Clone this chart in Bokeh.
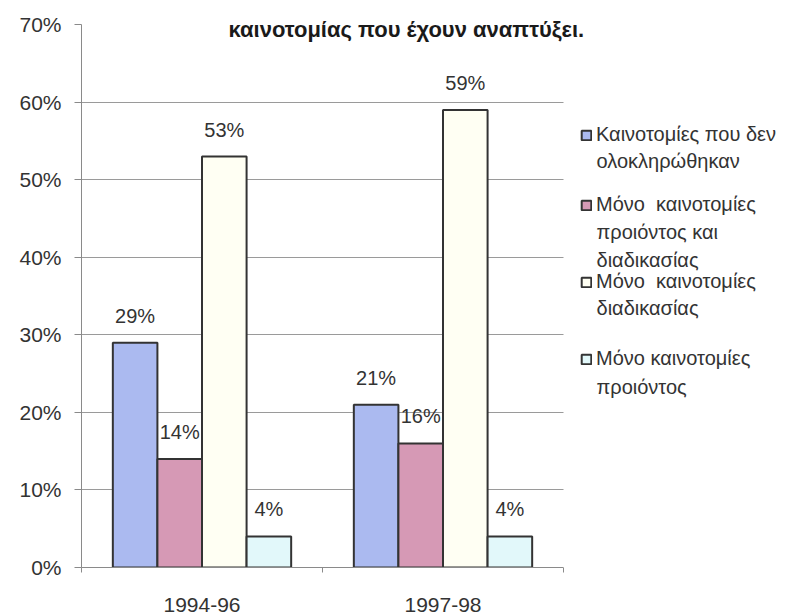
from bokeh.plotting import figure
from bokeh.models import (ColumnDataSource, Range1d, Legend, LegendItem, Label,
                          PrintfTickFormatter, FixedTicker, BoxAnnotation)
from bokeh.transform import dodge
from bokeh.core.properties import value
from bokeh.embed import file_html
from bokeh.resources import INLINE

periods = ["1994-96", "1997-98"]
not_completed = [29, 21]
prod_and_proc = [14, 16]
proc_only = [53, 59]
prod_only = [4, 4]
y_ticks = [0, 10, 20, 30, 40, 50, 60, 70]

legend_first = ["Καινοτομίες που δεν", "Μόνο  καινοτομίες", "Μόνο  καινοτομίες",
                "Μόνο καινοτομίες"]
legend_rest = [["ολοκληρώθηκαν"], ["προιόντος και", "διαδικασίας"], ["διαδικασίας"],
               ["προιόντος"]]
title_text = "καινοτομίας που έχουν αναπτύξει."

colors = ["#abbaf0", "#d699b5", "#fffff3", "#e2f8fa"]
offsets = [-0.2775, -0.0925, 0.0925, 0.2775]
FONT = "Liberation Sans"

# layout constants (pixels)
LEFT, BOTTOM_PX, W, H = 81, 569, 799, 614
CAT_PX = 241.0
PX_PER_UNIT = 544.7 / 70

xc = [i + 0.5 for i in range(len(periods))]
src = ColumnDataSource(dict(xc=xc, s1=not_completed, s2=prod_and_proc,
                            s3=proc_only, s4=prod_only,
                            l1=[f"{v}%" for v in not_completed],
                            l2=[f"{v}%" for v in prod_and_proc],
                            l3=[f"{v}%" for v in proc_only],
                            l4=[f"{v}%" for v in prod_only]))

p = figure(width=W, height=H,
           x_range=Range1d(0, (W - LEFT) / CAT_PX),
           y_range=Range1d(0, BOTTOM_PX / PX_PER_UNIT),
           output_backend="svg", toolbar_location=None,
           min_border_left=LEFT, min_border_right=0, min_border_top=0,
           min_border_bottom=H - BOTTOM_PX)
p.outline_line_color = None
p.background_fill_color = "white"
p.border_fill_color = "white"

renderers = []
for i, key in enumerate(["s1", "s2", "s3", "s4"]):
    r = p.vbar(x=dodge("xc", offsets[i]), top=key, width=0.185,
               source=src, fill_color=colors[i], line_color="#333333", line_width=2)
    renderers.append(r)
    p.text(x=dodge("xc", offsets[i]), y=key, text=f"l{i+1}",
           source=src, text_align="center", text_baseline="middle", y_offset=-27,
           text_font=value(FONT), text_font_size="20px", text_color="#333333")

p.xgrid.visible = False
p.ygrid.ticker = FixedTicker(ticks=y_ticks[1:-1])
p.ygrid.grid_line_color = "#9a9a9a"
p.ygrid.grid_line_width = 1
p.ygrid.level = "underlay"

p.yaxis.ticker = FixedTicker(ticks=y_ticks)
p.yaxis.formatter = PrintfTickFormatter(format="%d%%")
p.yaxis.bounds = (0, 70)
p.yaxis.major_tick_out = 7
p.yaxis.major_tick_in = 0
p.yaxis.minor_tick_line_color = None
p.yaxis.major_label_standoff = 13

p.xaxis.ticker = FixedTicker(ticks=xc, minor_ticks=list(range(len(periods) + 1)))
p.xaxis.major_label_overrides = {x: s for x, s in zip(xc, periods)}
p.xaxis.bounds = (0, len(periods))
p.xaxis.major_tick_line_color = None
p.xaxis.minor_tick_out = 5
p.xaxis.minor_tick_in = 0
p.xaxis.major_label_standoff = 24
for ax in (p.xaxis, p.yaxis):
    ax.axis_line_color = "#8a8a8a"
    ax.major_label_text_font = FONT
    ax.major_label_text_font_size = "21px"
    ax.major_label_text_color = "#333333"
p.xaxis.minor_tick_line_color = "#8a8a8a"
p.yaxis.major_tick_line_color = "#8a8a8a"

# blank out grid lines to the right of the plotting area
p.add_layout(BoxAnnotation(left=len(periods), fill_color="white", fill_alpha=1,
                           line_color=None))

# legend: one block per series, placed in screen units from frame bottom-left
first_cy = [137, 207, 284, 361]
rest_cy = [[162], [233, 261], [309], [388]]
ITEM_H = 22
for i in range(4):
    lg = Legend(items=[LegendItem(label=legend_first[i], renderers=[renderers[i]])],
                location=(580 - LEFT, BOTTOM_PX - first_cy[i] - ITEM_H / 2),
                padding=0, margin=0, border_line_color=None, background_fill_alpha=0,
                glyph_width=12, glyph_height=12, label_standoff=4, label_height=ITEM_H,
                label_text_font=FONT, label_text_font_size="20px",
                label_text_color="#333333")
    p.add_layout(lg)
    for txt, cy in zip(legend_rest[i], rest_cy[i]):
        p.add_layout(Label(x=596 - LEFT, y=BOTTOM_PX - cy, x_units="screen",
                           y_units="screen", text=txt, text_align="left",
                           text_baseline="middle", text_font=FONT,
                           text_font_size="20px", text_color="#333333"))

p.add_layout(Label(x=228 - LEFT, y=BOTTOM_PX - 31, x_units="screen", y_units="screen",
                   text=title_text, text_align="left", text_baseline="alphabetic",
                   text_font=FONT, text_font_size="22px", text_font_style="bold",
                   text_color="#1a1a1a"))

open("out.html", "w").write(file_html(p, INLINE))
